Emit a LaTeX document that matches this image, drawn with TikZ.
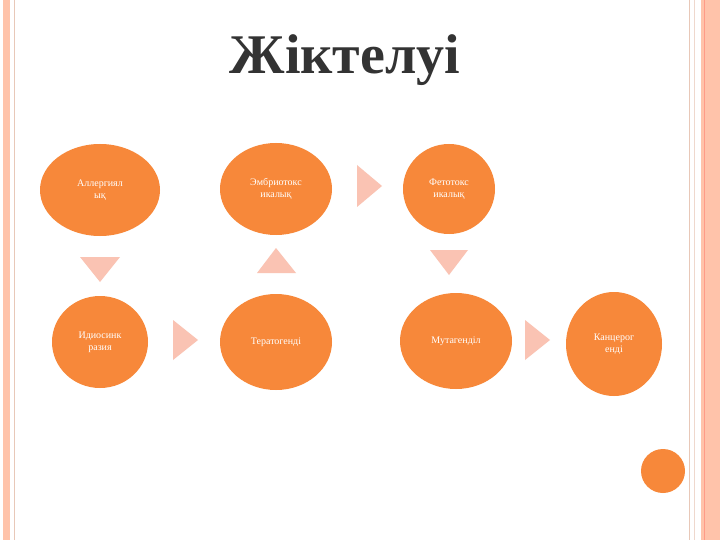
\documentclass[tikz,border=0pt]{standalone}
\usepackage{fontspec}
\setmainfont{Liberation Serif}
\usetikzlibrary{shapes.geometric}
\begin{document}
\begin{tikzpicture}[x=1pt,y=-1pt,
  circ/.style={ellipse,fill=orOrange,text=white,font=\fontsize{10}{12}\selectfont,align=center,inner sep=0pt},
  tri/.style={fill=triCol,draw=none}]
\definecolor{orOrange}{HTML}{F7883A}
\definecolor{triCol}{HTML}{FAC3B3}
\definecolor{barCol}{HTML}{FFC3AA}
\definecolor{lineCol}{HTML}{E8C8B8}
\useasboundingbox (0,0) rectangle (720,540);
\fill[white] (0,0) rectangle (720,540);
\fill[barCol] (3,0) rectangle (10,540);
\draw[lineCol,line width=0.8] (14,0) -- (14,540);
\draw[lineCol,line width=1] (689,0) -- (689,540);
\draw[lineCol!70,line width=0.8] (694,0) -- (694,540);
\fill[barCol] (701,0) rectangle (720,540);
\draw[barCol!80!red,line width=0.5] (704,0) -- (704,540);
\node[font=\fontsize{56}{60}\selectfont\bfseries,text=black!80] (title) at (345,60) {Жіктелуі};
\begin{scope}[every node/.style={circ}]
\node[minimum width=120,minimum height=92] (a) at (100,190) {Аллергиял\\ық};
\node[minimum width=112,minimum height=92] (b) at (276,189) {Эмбриотокс\\икалық};
\node[minimum width=92,minimum height=90] (c) at (449,189) {Фетотокс\\икалық};
\node[minimum width=96,minimum height=92] (d) at (100,342) {Идиосинк\\разия};
\node[minimum width=112,minimum height=96] (e) at (276,342) {Тератогенді};
\node[minimum width=112,minimum height=96] (f) at (456,341) {Мутагенділ};
\node[minimum width=96,minimum height=104] (g) at (614,344) {Канцерог\\енді};
\node[minimum width=44,minimum height=44] (h) at (663,471) {};
\end{scope}
\fill[tri] (357,165) -- (382,186) -- (357,207) -- cycle;
\fill[tri] (80,257) -- (120,257) -- (100,282) -- cycle;
\fill[tri] (257,273) -- (296,273) -- (276,248) -- cycle;
\fill[tri] (430,250) -- (468,250) -- (449,275) -- cycle;
\fill[tri] (173,320) -- (198,340) -- (173,360) -- cycle;
\fill[tri] (525,320) -- (550,340) -- (525,360) -- cycle;
\end{tikzpicture}
\end{document}
